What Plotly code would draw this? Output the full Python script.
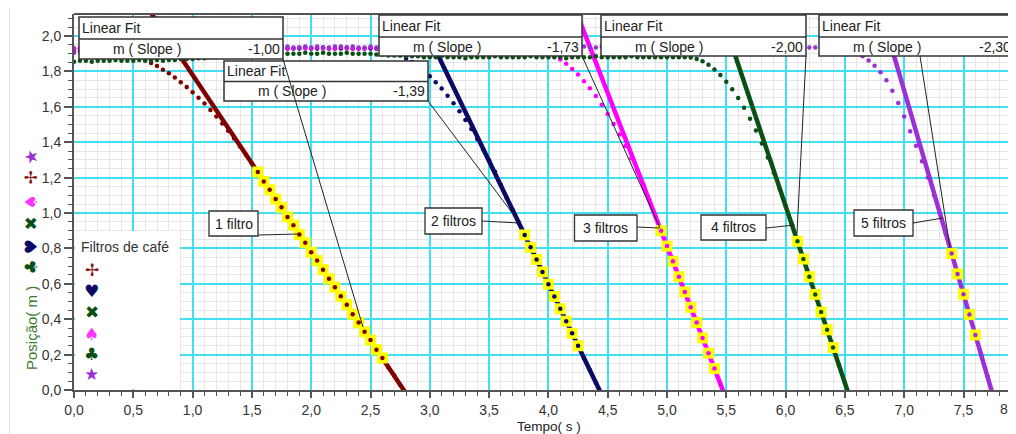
import plotly.graph_objects as go

# ---------------- data ----------------
TIME = [
    0.00, 0.05, 0.10, 0.15, 0.20, 0.25, 0.30, 0.35, 0.40, 0.45,
    0.50, 0.55, 0.60, 0.65, 0.70, 0.75, 0.80, 0.85, 0.90, 0.95,
    1.00, 1.05, 1.10, 1.15, 1.20, 1.25, 1.30, 1.35, 1.40, 1.45,
    1.50, 1.55, 1.60, 1.65, 1.70, 1.75, 1.80, 1.85, 1.90, 1.95,
    2.00, 2.05, 2.10, 2.15, 2.20, 2.25, 2.30, 2.35, 2.40, 2.45,
    2.50, 2.55, 2.60, 2.65, 2.70, 2.75, 2.80, 2.85, 2.90, 2.95,
    3.00, 3.05, 3.10, 3.15, 3.20, 3.25, 3.30, 3.35, 3.40, 3.45,
    3.50, 3.55, 3.60, 3.65, 3.70, 3.75, 3.80, 3.85, 3.90, 3.95,
    4.00, 4.05, 4.10, 4.15, 4.20, 4.25, 4.30, 4.35, 4.40, 4.45,
    4.50, 4.55, 4.60, 4.65, 4.70, 4.75, 4.80, 4.85, 4.90, 4.95,
    5.00, 5.05, 5.10, 5.15, 5.20, 5.25, 5.30, 5.35, 5.40, 5.45,
    5.50, 5.55, 5.60, 5.65, 5.70, 5.75, 5.80, 5.85, 5.90, 5.95,
    6.00, 6.05, 6.10, 6.15, 6.20, 6.25, 6.30, 6.35, 6.40, 6.45,
    6.50, 6.55, 6.60, 6.65, 6.70, 6.75, 6.80, 6.85, 6.90, 6.95,
    7.00, 7.05, 7.10, 7.15, 7.20, 7.25, 7.30, 7.35, 7.40, 7.45,
    7.50, 7.55, 7.60, 7.65, 7.70, 7.75,
]

SERIES_NAMES = ["1 filtro", "2 filtros", "3 filtros", "4 filtros", "5 filtros"]

POS_1F = [
    1.915, 1.920, 1.920, 1.915, 1.920, 1.920, 1.917, 1.913, 1.907, 1.899,
    1.889, 1.877, 1.864, 1.848, 1.830, 1.810, 1.789, 1.765, 1.739, 1.712,
    1.682, 1.651, 1.618, 1.582, 1.545, 1.506, 1.464, 1.421, 1.376, 1.329,
    1.280, 1.232, 1.178, 1.131, 1.079, 1.032, 0.978, 0.931, 0.879, 0.832,
    0.778, 0.731, 0.680, 0.628, 0.581, 0.529, 0.482, 0.428, 0.381, 0.329,
    0.282, 0.228, 0.181, 0.129, 0.082, 0.030, -0.020,
]

POS_2F = [
    1.930, 1.930, 1.925, 1.930, 1.930, 1.935, 1.930, 1.930, 1.930, 1.935,
    1.930, 1.930, 1.935, 1.930, 1.930, 1.930, 1.935, 1.930, 1.930, 1.930,
    1.935, 1.930, 1.930, 1.930, 1.935, 1.930, 1.930, 1.935, 1.930, 1.930,
    1.930, 1.935, 1.930, 1.930, 1.930, 1.935, 1.930, 1.930, 1.930, 1.935,
    1.930, 1.930, 1.935, 1.930, 1.930, 1.930, 1.935, 1.930, 1.930, 1.930,
    1.930, 1.928, 1.924, 1.916, 1.905, 1.891, 1.873, 1.853, 1.829, 1.802,
    1.772, 1.739, 1.703, 1.663, 1.620, 1.575, 1.526, 1.474, 1.418, 1.360,
    1.298, 1.233, 1.158, 1.084, 1.015, 0.945, 0.876, 0.806, 0.737, 0.667,
    0.598, 0.528, 0.459, 0.389, 0.320, 0.250, 0.181, 0.111, 0.042, -0.028,
]

POS_3F = [
    1.930, 1.935, 1.930, 1.930, 1.930, 1.930, 1.935, 1.930, 1.930, 1.930,
    1.935, 1.930, 1.930, 1.930, 1.935, 1.930, 1.930, 1.935, 1.930, 1.930,
    1.930, 1.930, 1.935, 1.930, 1.930, 1.930, 1.935, 1.930, 1.930, 1.935,
    1.930, 1.930, 1.930, 1.935, 1.930, 1.930, 1.930, 1.930, 1.935, 1.930,
    1.930, 1.935, 1.930, 1.930, 1.930, 1.935, 1.930, 1.930, 1.930, 1.930,
    1.935, 1.930, 1.930, 1.930, 1.935, 1.930, 1.930, 1.930, 1.935, 1.930,
    1.930, 1.930, 1.935, 1.930, 1.930, 1.930, 1.930, 1.935, 1.930, 1.930,
    1.935, 1.930, 1.930, 1.930, 1.935, 1.930, 1.930, 1.929, 1.925, 1.916,
    1.904, 1.888, 1.867, 1.843, 1.814, 1.782, 1.745, 1.705, 1.661, 1.612,
    1.560, 1.503, 1.443, 1.378, 1.310, 1.237, 1.161, 1.075, 0.986, 0.900,
    0.813, 0.727, 0.640, 0.554, 0.467, 0.381, 0.294, 0.208, 0.121, 0.035,
    -0.052,
]

POS_4F = [
    1.855, 1.860, 1.860, 1.855, 1.860, 1.860, 1.860, 1.865, 1.860, 1.860,
    1.860, 1.865, 1.860, 1.860, 1.865, 1.860, 1.865, 1.865, 1.870, 1.870,
    1.870, 1.875, 1.875, 1.880, 1.880, 1.885, 1.885, 1.890, 1.890, 1.895,
    1.895, 1.900, 1.900, 1.900, 1.900, 1.905, 1.900, 1.900, 1.900, 1.905,
    1.900, 1.900, 1.905, 1.900, 1.900, 1.900, 1.905, 1.900, 1.900, 1.900,
    1.900, 1.895, 1.895, 1.890, 1.890, 1.890, 1.885, 1.885, 1.885, 1.880,
    1.880, 1.880, 1.885, 1.880, 1.880, 1.880, 1.875, 1.880, 1.880, 1.880,
    1.880, 1.885, 1.880, 1.880, 1.880, 1.880, 1.880, 1.885, 1.880, 1.880,
    1.880, 1.880, 1.880, 1.875, 1.880, 1.880, 1.880, 1.880, 1.885, 1.880,
    1.880, 1.880, 1.880, 1.880, 1.885, 1.880, 1.880, 1.880, 1.880, 1.880,
    1.880, 1.880, 1.880, 1.880, 1.878, 1.870, 1.857, 1.837, 1.811, 1.780,
    1.742, 1.699, 1.650, 1.594, 1.533, 1.466, 1.392, 1.313, 1.228, 1.137,
    1.040, 0.940, 0.840, 0.740, 0.640, 0.540, 0.440, 0.340, 0.240, 0.140,
    0.040, -0.060,
]

POS_5F = [
    1.905, 1.910, 1.910, 1.915, 1.915, 1.920, 1.920, 1.925, 1.925, 1.930,
    1.930, 1.930, 1.935, 1.930, 1.935, 1.935, 1.935, 1.935, 1.940, 1.935,
    1.935, 1.940, 1.935, 1.935, 1.940, 1.935, 1.940, 1.935, 1.935, 1.940,
    1.940, 1.935, 1.935, 1.940, 1.935, 1.940, 1.940, 1.935, 1.935, 1.940,
    1.935, 1.940, 1.935, 1.935, 1.940, 1.940, 1.935, 1.940, 1.935, 1.935,
    1.940, 1.935, 1.940, 1.940, 1.935, 1.935, 1.940, 1.935, 1.940, 1.935,
    1.935, 1.940, 1.940, 1.935, 1.935, 1.940, 1.935, 1.935, 1.940, 1.940,
    1.935, 1.940, 1.935, 1.935, 1.940, 1.935, 1.940, 1.940, 1.935, 1.935,
    1.940, 1.935, 1.935, 1.940, 1.940, 1.935, 1.940, 1.935, 1.935, 1.940,
    1.935, 1.940, 1.940, 1.935, 1.935, 1.940, 1.935, 1.940, 1.935, 1.935,
    1.940, 1.935, 1.935, 1.940, 1.935, 1.940, 1.940, 1.935, 1.935, 1.940,
    1.935, 1.940, 1.935, 1.935, 1.940, 1.940, 1.935, 1.935, 1.940, 1.935,
    1.935, 1.940, 1.935, 1.940, 1.935, 1.935, 1.940, 1.935, 1.935, 1.935,
    1.930, 1.920, 1.905, 1.885, 1.862, 1.832, 1.795, 1.750, 1.690, 1.622,
    1.545, 1.462, 1.380, 1.293, 1.200, 1.101, 0.995, 0.886, 0.771, 0.656,
    0.541, 0.426, 0.311, 0.196, 0.081, -0.035,
]

# linear fits: position = slope * time + intercept
FIT_SLOPE = [-1.00, -1.39, -1.73, -2.00, -2.30]
FIT_INTERCEPT = [2.780, 6.158, 9.463, 13.040, 17.791]
FIT_START = [1.55, 3.80, 4.95, 6.10, 7.40]
FIT_END = [2.60, 4.25, 5.40, 6.40, 7.60]

LEGEND_TITLE = "Filtros de café"
LEGEND_SYMBOLS = ["✢", "♥", "✖", "♠", "♣", "★"]
Y_TITLE = "Posição( m )"
Y_TITLE_SYMBOLS = ["♣", "♥", "✖", "♠", "✢", "★"]
X_TITLE = "Tempo( s )"

# ---------------- styles / layout ----------------
SERIES = [POS_1F, POS_2F, POS_3F, POS_4F, POS_5F]
COLORS = ["#800000", "#0a0a66", "#ff00ff", "#0a4f14", "#9b30d5"]
LEGEND_COLORS = ["#8b1a1a", "#0a0a66", "#0a4f14", "#ff33ff", "#0a4f14", "#9b30d5"]
YT_SYM_COLORS = ["#0a4f14", "#0a0a66", "#0a4f14", "#ff33ff", "#8b1a1a", "#9b30d5"]

# page (screenshot) geometry; the page body adds an 8 px offset to the figure
PAGE_OFF = 8
FIG_W, FIG_H = 1016 - PAGE_OFF, 434 - PAGE_OFF
PLOT_L, PLOT_T, PLOT_W, PLOT_H = 74, 14, 942, 376      # in page pixels
PX_PER_S, PX_PER_M = 118.6, 177.0
X_MAX = PLOT_W / PX_PER_S
Y_MAX = PLOT_H / PX_PER_M

FONT = "Liberation Sans, Arial, sans-serif"
SYM_FONT = "DejaVu Sans, sans-serif"
CYAN = "#40e0f0"
AXIS_C = "#555555"
TEXT_C = "#222222"


def fx(xp):
    return (xp - PLOT_L) / PLOT_W


def fy(yp):
    return (PLOT_T + PLOT_H - yp) / PLOT_H


fig = go.Figure()

# fit lines (full width, clipped by the axes)
for m, b, c in zip(FIT_SLOPE, FIT_INTERCEPT, COLORS):
    y_hi, y_lo = Y_MAX + 0.3, -0.1
    fig.add_trace(go.Scatter(
        x=[(y_hi - b) / m, (y_lo - b) / m], y=[y_hi, y_lo], mode="lines",
        line=dict(color=c, width=4.5), hoverinfo="skip"))

# yellow highlighted points used in the fits
for pos, t0, t1 in zip(SERIES, FIT_START, FIT_END):
    sel = [(t, p) for t, p in zip(TIME, pos) if t0 - 1e-6 <= t <= t1 + 1e-6]
    fig.add_trace(go.Scatter(
        x=[s[0] for s in sel], y=[s[1] for s in sel], mode="markers",
        marker=dict(symbol="square", size=11, color="#ffff00", line=dict(width=0)),
        hoverinfo="skip"))

# data dots
for name, pos, c in zip(SERIES_NAMES, SERIES, COLORS):
    fig.add_trace(go.Scatter(
        x=TIME[:len(pos)], y=pos, mode="markers", name=name,
        marker=dict(size=4.5, color=c, line=dict(width=0))))

shapes = []
annotations = []

# faint frame at left of screenshot
shapes.append(dict(type="line", xref="paper", yref="paper", x0=fx(9.5), x1=fx(9.5),
                   y0=fy(7), y1=fy(434), line=dict(color="#dddddd", width=1)))
# top border of plot
shapes.append(dict(type="line", xref="paper", yref="paper", x0=0, x1=1, y0=1, y1=1,
                   line=dict(color=AXIS_C, width=2), layer="above"))

# legend box
shapes.append(dict(type="rect", xref="paper", yref="paper", x0=fx(75), x1=fx(180),
                   y0=fy(389), y1=fy(231), fillcolor="white", line=dict(width=0), layer="above"))
annotations.append(dict(text=LEGEND_TITLE, x=fx(79), y=fy(247), xanchor="left", yanchor="middle",
                        font=dict(family=FONT, size=14, color="#333333")))
for sym, col, yc in zip(LEGEND_SYMBOLS, LEGEND_COLORS, [270, 291, 312, 334, 354, 374]):
    annotations.append(dict(text=sym, x=fx(91.5), y=fy(yc), xanchor="center", yanchor="middle",
                            font=dict(family=SYM_FONT, size=17, color=col)))

# y-axis title with its rotated symbols
annotations.append(dict(text=Y_TITLE, x=fx(31), y=fy(328), textangle=-90, xanchor="center",
                        yanchor="middle", font=dict(family=FONT, size=15, color="#3a7d2c")))
for sym, col, yc in zip(Y_TITLE_SYMBOLS, YT_SYM_COLORS, [267, 247, 224, 202, 178, 157]):
    annotations.append(dict(text=sym, x=fx(30.5), y=fy(yc), textangle=-90, xanchor="center",
                            yanchor="middle", font=dict(family=SYM_FONT, size=17, color=col)))

# x-axis title and the last tick label at the cut edge
annotations.append(dict(text=X_TITLE, x=fx(549), y=fy(426.5), xanchor="center", yanchor="middle",
                        font=dict(family=FONT, size=13.5, color=TEXT_C)))
annotations.append(dict(text="8,", x=fx(1014), y=fy(409), xanchor="right", yanchor="middle",
                        font=dict(family=FONT, size=14, color="#333333")))

# Linear Fit boxes
FIT_BOXES = [(79, 283, 17, 39, 59), (224, 428, 61, 81.5, 101), (379, 582, 15, 37, 56),
             (601, 806, 15, 37, 56), (819, 1024, 15, 37, 56)]
FIT_LEADERS = [((283, 59), (363, 327)), ((428, 101), (519, 222)), ((582, 56), (660, 228)),
               ((806, 56), (797, 233)), ((920, 56), (950, 248))]
for (x0, x1, y0, yd, y1), m in zip(FIT_BOXES, FIT_SLOPE):
    shapes.append(dict(type="rect", xref="paper", yref="paper", x0=fx(x0), x1=fx(x1),
                       y0=fy(y1), y1=fy(y0), fillcolor="white",
                       line=dict(color="#333333", width=1.5), layer="above"))
    shapes.append(dict(type="line", xref="paper", yref="paper", x0=fx(x0), x1=fx(x1),
                       y0=fy(yd), y1=fy(yd), line=dict(color="#333333", width=1.5), layer="above"))
    annotations.append(dict(text="Linear Fit", x=fx(x0 + 1), y=fy((y0 + yd) / 2), xanchor="left",
                            yanchor="middle", font=dict(family=FONT, size=14, color=TEXT_C)))
    annotations.append(dict(text="m ( Slope )", x=fx(x0 + 32), y=fy((yd + y1) / 2), xanchor="left",
                            yanchor="middle", font=dict(family=FONT, size=14, color=TEXT_C)))
    annotations.append(dict(text=f"{m:.2f}".replace(".", ","), x=fx(min(x1 - 1, 1013)),
                            y=fy((yd + y1) / 2), xanchor="right", yanchor="middle",
                            font=dict(family=FONT, size=14, color=TEXT_C)))
for (a, b) in FIT_LEADERS:
    shapes.append(dict(type="line", xref="paper", yref="paper", x0=fx(a[0]), y0=fy(a[1]),
                       x1=fx(b[0]), y1=fy(b[1]), line=dict(color="#222222", width=1), layer="above"))

# series labels
LABEL_BOXES = [(209, 258, 211, 236), (425, 482, 208, 234), (574.5, 637, 215, 241),
               (701, 766, 215, 240), (854, 913, 210, 236)]
LABEL_LEADERS = [((258, 235), (298, 234)), ((482, 221), (519, 223)), ((637, 227), (659, 228)),
                 ((766, 228), (795, 225)), ((913, 223), (943, 218))]
for name, (x0, x1, y0, y1) in zip(SERIES_NAMES, LABEL_BOXES):
    shapes.append(dict(type="rect", xref="paper", yref="paper", x0=fx(x0), x1=fx(x1),
                       y0=fy(y1), y1=fy(y0), fillcolor="white",
                       line=dict(color="#333333", width=1.3), layer="above"))
    annotations.append(dict(text=name, x=fx((x0 + x1) / 2), y=fy((y0 + y1) / 2), xanchor="center",
                            yanchor="middle", font=dict(family=FONT, size=14, color=TEXT_C)))
for (a, b) in LABEL_LEADERS:
    shapes.append(dict(type="line", xref="paper", yref="paper", x0=fx(a[0]), y0=fy(a[1]),
                       x1=fx(b[0]), y1=fy(b[1]), line=dict(color="#222222", width=1), layer="above"))

for a in annotations:
    a.setdefault("xref", "paper")
    a.setdefault("yref", "paper")
    a["showarrow"] = False

fig.update_layout(
    width=FIG_W, height=FIG_H,
    margin=dict(l=PLOT_L - PAGE_OFF, r=FIG_W + PAGE_OFF - PLOT_L - PLOT_W, t=PLOT_T - PAGE_OFF,
                b=FIG_H + PAGE_OFF - PLOT_T - PLOT_H, pad=0),
    paper_bgcolor="white", plot_bgcolor="white", showlegend=False, separators=",.",
    font=dict(family=FONT, size=14, color="#333333"),
    shapes=shapes, annotations=annotations,
)
fig.update_xaxes(
    range=[0, X_MAX], tick0=0, dtick=0.5, tickformat=".1f", automargin=False,
    ticks="outside", ticklen=6, tickwidth=1.5, tickcolor=AXIS_C,
    showline=True, linecolor=AXIS_C, linewidth=2, zeroline=False,
    showgrid=True, gridcolor=CYAN, gridwidth=1.5,
    tickfont=dict(family=FONT, size=14, color="#333333"),
    minor=dict(dtick=0.1, ticks="outside", ticklen=4, tickcolor=AXIS_C, tickwidth=1,
               showgrid=True, gridcolor="#e6e6e6", gridwidth=1),
)
fig.update_yaxes(
    range=[0, Y_MAX], tick0=0, dtick=0.2, tickformat=".1f", automargin=False,
    ticks="outside", ticklen=8, tickwidth=1.5, tickcolor=AXIS_C,
    showline=True, linecolor=AXIS_C, linewidth=2, zeroline=False,
    showgrid=True, gridcolor=CYAN, gridwidth=1.5,
    tickfont=dict(family=FONT, size=14, color="#333333"),
    minor=dict(dtick=0.05, ticks="outside", ticklen=4, tickcolor=AXIS_C, tickwidth=1,
               showgrid=True, gridcolor="#e6e6e6", gridwidth=1),
)

fig.write_html("out.html")
